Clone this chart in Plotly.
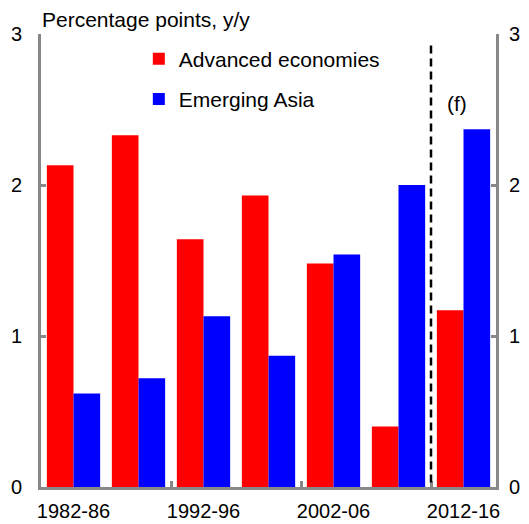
import plotly.graph_objects as go

# Growth contribution, percentage points y/y
periods = ["1982-86", "1987-91", "1992-96", "1997-01", "2002-06", "2007-11", "2012-16"]
advanced = [2.13, 2.33, 1.64, 1.93, 1.48, 0.40, 1.17]
emerging_asia = [0.62, 0.72, 1.13, 0.87, 1.54, 2.00, 2.37]
label_periods = ["1982-86", "1992-96", "2002-06", "2012-16"]
y_ticks = [0, 1, 2, 3]

axis_grey = "#888888"
font_fam = "Liberation Sans, Arial, sans-serif"

fig = go.Figure()
fig.add_bar(x=periods, y=advanced, name="Advanced economies",
            marker=dict(color="#ff0000", line_width=0), legendgroup="a")
fig.add_bar(x=periods, y=emerging_asia, name="Emerging Asia",
            marker=dict(color="#0000ff", line_width=0), legendgroup="b")

yax = dict(range=[0, 3], tickvals=y_ticks, ticks="inside", ticklen=5,
           tickwidth=3, tickcolor=axis_grey, showline=True, linecolor=axis_grey,
           linewidth=3, showgrid=False, zeroline=False, automargin=False,
           tickfont=dict(size=20, color="black"), ticklabelstandoff=12)

# page body has an 8px margin, so the figure is a bit smaller than the window
fig.update_layout(
    width=521, height=516,
    margin=dict(l=33, r=33, t=26, b=37, autoexpand=False),
    paper_bgcolor="white", plot_bgcolor="white",
    font=dict(family=font_fam, size=20, color="black"),
    barmode="group", bargap=0.18, bargroupgap=0,
    showlegend=True,
    legend=dict(x=0.215, y=0.99, xanchor="left", yanchor="top",
                bgcolor="rgba(0,0,0,0)", font=dict(size=21),
                tracegroupgap=10, traceorder="grouped"),
    xaxis=dict(type="category", tickvals=label_periods, ticks="",
               showline=True, linecolor=axis_grey, linewidth=3,
               showgrid=False, range=[-0.5, 6.5], automargin=False,
               tickfont=dict(size=20, color="black"), ticklabelstandoff=4),
    # boundary ticks between every second pair of bars
    xaxis2=dict(overlaying="x", range=[-0.5, 6.5], tickvals=[1.5, 3.5, 5.5],
                ticks="inside", ticklen=6, tickwidth=3, tickcolor=axis_grey,
                showticklabels=False, showgrid=False, showline=False,
                side="bottom", anchor="y", automargin=False),
    yaxis=yax,
    yaxis2=dict(yax, overlaying="y", side="right", anchor="x", ticklabelstandoff=6),
)

# invisible traces so the overlay axes get drawn
fig.add_scatter(x=[0], y=[0], xaxis="x2", yaxis="y2", mode="markers",
                marker_opacity=0, showlegend=False, hoverinfo="skip")

# forecast divider
fig.add_shape(type="line", xref="x", yref="paper", x0=5.5, x1=5.5, y0=0.01, y1=0.98,
              line=dict(color="black", width=2.5, dash="8px,5px"))

fig.add_annotation(text="(f)", x=5.9, y=2.54, xref="x", yref="y",
                   showarrow=False, font=dict(size=21))
fig.add_annotation(text="Percentage points, y/y", x=0, y=1, xref="paper", yref="paper",
                   xanchor="left", yanchor="middle", yshift=15, showarrow=False,
                   borderpad=0, font=dict(size=21))

fig.write_html("out.html")
